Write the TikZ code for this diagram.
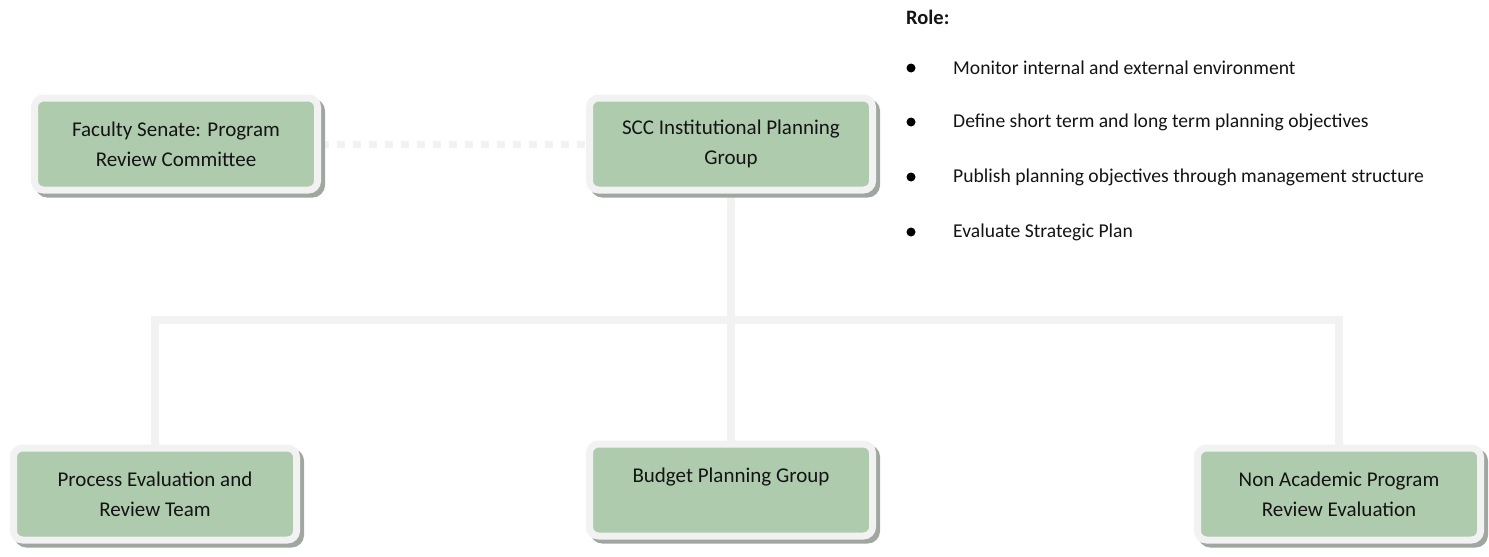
\documentclass[tikz,border=0pt]{standalone}
\usepackage{fontspec}
\setmainfont{Carlito}
\usetikzlibrary{shadows,backgrounds}
\definecolor{boxgreen}{RGB}{174,203,173}
\definecolor{rimgray}{RGB}{242,242,242}
\definecolor{shadegray}{RGB}{160,167,160}
\definecolor{txt}{RGB}{20,20,20}
\tikzset{
  unit/.style={draw=rimgray, fill=boxgreen, line width=7pt, rounded corners=9pt,
    minimum width=283pt, minimum height=92pt, inner sep=0pt, align=center,
    font=\fontsize{21}{30}\selectfont, text=txt,
    drop shadow={shadow xshift=4pt, shadow yshift=-4pt, fill=shadegray, draw=shadegray, line width=7pt, opacity=1}},
  link/.style={draw=rimgray, line width=8pt},
  dotlink/.style={draw=rimgray, line width=7pt, dash pattern=on 8pt off 8pt},
  roletext/.style={anchor=west, inner sep=0pt, font=\fontsize{19.6}{23}\selectfont, text=txt},
  bullet/.style={circle, fill=black, inner sep=0pt, minimum size=9pt}
}
\begin{document}
\begin{tikzpicture}[x=1pt,y=-1pt]
\useasboundingbox (0,0) rectangle (1489,557);
\node[unit] (fac) at (176,144) {Faculty Senate: Program\\Review Committee};
\node[unit] (scc) at (731,144) {SCC Institutional Planning\\Group};
\node[unit] (pert) at (155,494) {Process Evaluation and\\Review Team};
\node[unit] (bpg) at (731,490) {Budget Planning Group\\~};
\node[unit] (nap) at (1339,494) {Non Academic Program\\Review Evaluation};
\coordinate (hub) at (731,320);
\begin{scope}[on background layer]
  \draw[link] (scc.south) -- (bpg.north);
  \draw[link] (pert.north) |- (hub) -| (nap.north);
  \draw[dotlink] (fac.east) -- (scc.west);
\end{scope}
\node[roletext, font=\bfseries\fontsize{20.5}{23}\selectfont] (role) at (906,17) {Role:};
\node[bullet] (b1) at (911,68) {};
\node[bullet] (b2) at (911,122) {};
\node[bullet] (b3) at (911,177) {};
\node[bullet] (b4) at (911,232) {};
\node[roletext] (r1) at (953,68) {Monitor internal and external environment};
\node[roletext] (r2) at (953,122) {Define short term and long term planning objectives};
\node[roletext] (r3) at (953,177) {Publish planning objectives through management structure};
\node[roletext] (r4) at (953,232) {Evaluate Strategic Plan};
\end{tikzpicture}
\end{document}
